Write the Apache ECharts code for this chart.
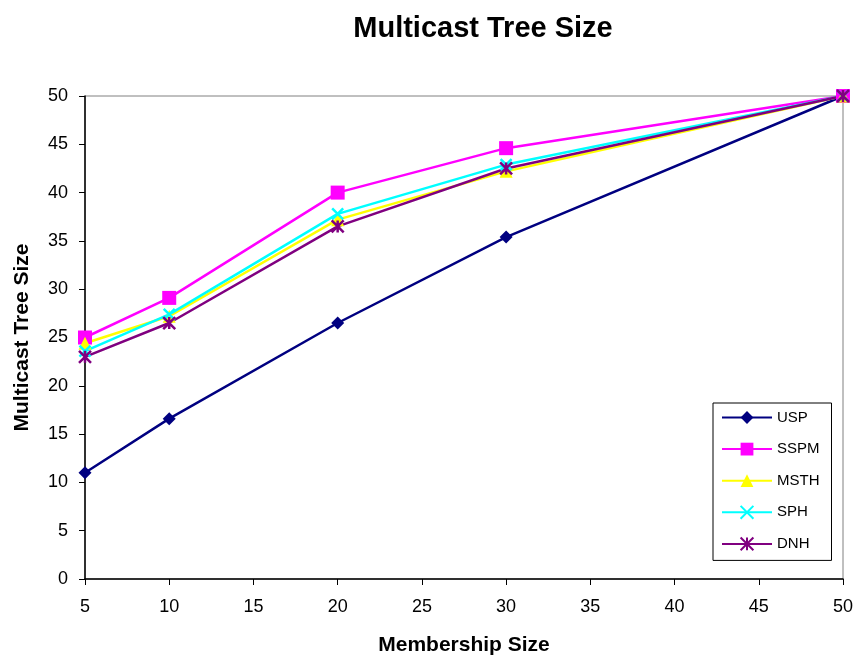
<!DOCTYPE html>
<html>
<head>
<meta charset="utf-8">
<script src="https://cdn.jsdelivr.net/npm/echarts@6/dist/echarts.min.js"></script>
<style>
  html, body { margin: 0; padding: 0; background: #fff; }
  #chart { width: 859px; height: 662px; }
</style>
</head>
<body>
<div id="chart"></div>
<script>
// membership sizes on the x axis
const memberSizes = [5, 10, 20, 30, 50]
const seriesNames = ['USP', 'SSPM', 'MSTH', 'SPH', 'DNH']
const uspValues = [11, 16.6, 26.5, 35.4, 50]
const sspmValues = [25, 29.1, 40, 44.6, 50]
const msthValues = [24.4, 27.2, 37.2, 42.2, 50]
const sphValues = [23.6, 27.4, 37.8, 42.9, 50]
const dnhValues = [23, 26.5, 36.5, 42.5, 50]

const font = '"Liberation Sans", Arial, sans-serif'
const crossPath = 'path://M0,0L10,10M10,0L0,10'
const starPath = 'path://M0,0L10,10M10,0L0,10M5,0L5,10'

function pairs (vals) {
  return memberSizes.map((x, i) => [x, vals[i]])
}

function makeSeries (name, vals, color, symbol, size, stroke) {
  return {
    name: name,
    type: 'line',
    data: pairs(vals),
    symbol: symbol,
    symbolSize: size,
    showAllSymbol: true,
    lineStyle: { color: color, width: 2.5 },
    itemStyle: stroke
      ? { color: color, borderColor: color, borderWidth: 2.5 }
      : { color: color, borderWidth: 0 },
    emphasis: { disabled: true },
    z: 2
  }
}

const chart = echarts.init(document.getElementById('chart'), null, { renderer: 'canvas' })

chart.setOption({
  animation: false,
  backgroundColor: '#fff',
  textStyle: { fontFamily: font },
  title: {
    text: 'Multicast Tree Size',
    left: 478,
    top: 9,
    textAlign: 'center',
    textStyle: { fontFamily: font, fontSize: 29, fontWeight: 'bold', color: '#000' }
  },
  grid: {
    left: 85,
    right: 16,
    top: 96,
    bottom: 83,
    show: true,
    borderColor: '#808080',
    borderWidth: 1,
    backgroundColor: 'transparent'
  },
  legend: {
    orient: 'vertical',
    left: 713,
    top: 403,
    padding: [7, 12, 9, 8],
    itemWidth: 50,
    itemHeight: 16,
    itemGap: 16.6,
    borderColor: '#000',
    borderWidth: 1,
    backgroundColor: '#fff',
    data: seriesNames,
    textStyle: { fontFamily: font, fontSize: 15, color: '#000' }
  },
  xAxis: {
    type: 'value',
    min: 5,
    max: 50,
    interval: 5,
    name: 'Membership Size',
    nameLocation: 'middle',
    nameGap: 56,
    nameTextStyle: { fontFamily: font, fontSize: 21, fontWeight: 'bold', color: '#000' },
    axisLine: { show: true, onZero: false, lineStyle: { color: '#000', width: 1.5 } },
    axisTick: { show: true, length: 6, lineStyle: { color: '#000' } },
    axisLabel: { fontFamily: font, fontSize: 18, color: '#000', margin: 19 },
    splitLine: { show: false }
  },
  yAxis: {
    type: 'value',
    min: 0,
    max: 50,
    interval: 5,
    name: 'Multicast Tree Size',
    nameLocation: 'middle',
    nameGap: 52,
    nameTextStyle: { fontFamily: font, fontSize: 21, fontWeight: 'bold', color: '#000' },
    axisLine: { show: true, lineStyle: { color: '#000', width: 1.5 } },
    axisTick: { show: true, length: 6, lineStyle: { color: '#000' } },
    axisLabel: { fontFamily: font, fontSize: 18, color: '#000', margin: 17 },
    splitLine: { show: false }
  },
  series: [
    makeSeries('USP', uspValues, '#000080', 'diamond', 13, false),
    makeSeries('SSPM', sspmValues, '#FF00FF', 'rect', 14, false),
    makeSeries('MSTH', msthValues, '#FFFF00', 'triangle', 13, false),
    makeSeries('SPH', sphValues, '#00FFFF', crossPath, 11, true),
    makeSeries('DNH', dnhValues, '#800080', starPath, 12, true)
  ]
})
</script>
</body>
</html>
